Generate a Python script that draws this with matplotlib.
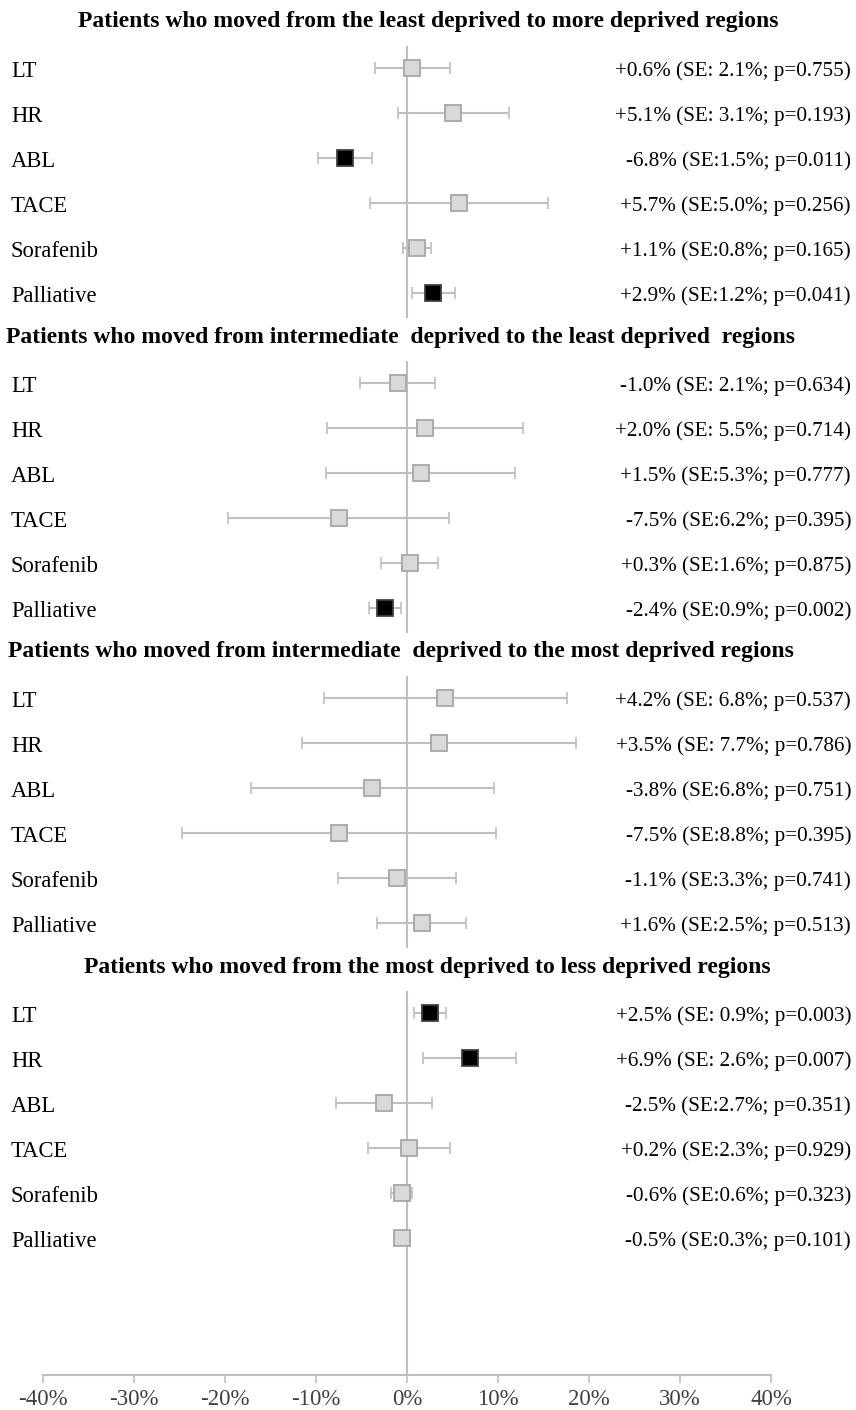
import numpy as np
import matplotlib
matplotlib.use("Agg")
import matplotlib.pyplot as plt
import matplotlib.ticker as ticker

# --------------------------------------------------------------------------- #
# data
# --------------------------------------------------------------------------- #
TREATMENTS = ["LT", "HR", "ABL", "TACE", "Sorafenib", "Palliative"]

TITLES = [
    "Patients who moved from the least deprived to more deprived regions",
    "Patients who moved from intermediate  deprived to the least deprived  regions",
    "Patients who moved from intermediate  deprived to the most deprived regions",
    "Patients who moved from the most deprived to less deprived regions",
]

# change in % for each treatment, per section
est_least_to_more = [0.6, 5.1, -6.8, 5.7, 1.1, 2.9]
est_inter_to_least = [-1.0, 2.0, 1.5, -7.5, 0.3, -2.4]
est_inter_to_most = [4.2, 3.5, -3.8, -7.5, -1.1, 1.6]
est_most_to_less = [2.5, 6.9, -2.5, 0.2, -0.6, -0.5]

se_least_to_more = [2.1, 3.1, 1.5, 5.0, 0.8, 1.2]
se_inter_to_least = [2.1, 5.5, 5.3, 6.2, 1.6, 0.9]
se_inter_to_most = [6.8, 7.7, 6.8, 8.8, 3.3, 2.5]
se_most_to_less = [0.9, 2.6, 2.7, 2.3, 0.6, 0.3]

p_least_to_more = [0.755, 0.193, 0.011, 0.256, 0.165, 0.041]
p_inter_to_least = [0.634, 0.714, 0.777, 0.395, 0.875, 0.002]
p_inter_to_most = [0.537, 0.786, 0.751, 0.395, 0.741, 0.513]
p_most_to_less = [0.003, 0.007, 0.351, 0.929, 0.323, 0.101]

# annotation text exactly as printed
LABELS_1 = ["+0.6% (SE: 2.1%; p=0.755)", "+5.1% (SE: 3.1%; p=0.193)",
            "-6.8% (SE:1.5%; p=0.011)", "+5.7% (SE:5.0%; p=0.256)",
            "+1.1% (SE:0.8%; p=0.165)", "+2.9% (SE:1.2%; p=0.041)"]
LABELS_2 = ["-1.0% (SE: 2.1%; p=0.634)", "+2.0% (SE: 5.5%; p=0.714)",
            "+1.5% (SE:5.3%; p=0.777)", "-7.5% (SE:6.2%; p=0.395)",
            "+0.3% (SE:1.6%; p=0.875)", "-2.4% (SE:0.9%; p=0.002)"]
LABELS_3 = ["+4.2% (SE: 6.8%; p=0.537)", "+3.5% (SE: 7.7%; p=0.786)",
            "-3.8% (SE:6.8%; p=0.751)", "-7.5% (SE:8.8%; p=0.395)",
            "-1.1% (SE:3.3%; p=0.741)", "+1.6% (SE:2.5%; p=0.513)"]
LABELS_4 = ["+2.5% (SE: 0.9%; p=0.003)", "+6.9% (SE: 2.6%; p=0.007)",
            "-2.5% (SE:2.7%; p=0.351)", "+0.2% (SE:2.3%; p=0.929)",
            "-0.6% (SE:0.6%; p=0.323)", "-0.5% (SE:0.3%; p=0.101)"]

XTICKS = [-40, -30, -20, -10, 0, 10, 20, 30, 40]

SECTIONS = [
    (est_least_to_more, se_least_to_more, p_least_to_more, LABELS_1),
    (est_inter_to_least, se_inter_to_least, p_inter_to_least, LABELS_2),
    (est_inter_to_most, se_inter_to_most, p_inter_to_most, LABELS_3),
    (est_most_to_less, se_most_to_less, p_most_to_less, LABELS_4),
]

# --------------------------------------------------------------------------- #
# style
# --------------------------------------------------------------------------- #
plt.rcParams.update({
    "font.family": ["Liberation Serif", "DejaVu Serif"],
    "font.size": 15,
})
GREY_LINE = "#bfbfbf"
BOX_FILL = "#d9d9d9"
BOX_EDGE = "#a6a6a6"
TITLE_CX_PX = [428, 401, 401, 427]   # horizontal centre of each title

W, H = 856, 1410
fig = plt.figure(figsize=(W / 100, H / 100), dpi=100)

# slot layout: each section = title slot + 6 rows, 45 px per slot
SLOT_PX = 45.0
SLOT0_PX = 23.0
AX_BOTTOM_PX = 1375.0
x_left_px, x_right_px = 43.0, 771.0

ax = fig.add_axes([x_left_px / W, (H - AX_BOTTOM_PX) / H,
                   (x_right_px - x_left_px) / W, AX_BOTTOM_PX / H])
ax.set_xlim(-40, 40)
y_top = (0 - SLOT0_PX) / SLOT_PX
y_bot = (AX_BOTTOM_PX - SLOT0_PX) / SLOT_PX
ax.set_ylim(y_bot, y_top)

n_rows = len(TREATMENTS)
for s, (est, se, pv, labels) in enumerate(SECTIONS):
    title_slot = s * (n_rows + 1)
    rows = title_slot + 1 + np.arange(n_rows)
    est = np.asarray(est)
    ci = 1.96 * np.asarray(se)

    # zero reference line, broken around the section titles
    seg_end = title_slot + n_rows + 0.56 if s < len(SECTIONS) - 1 else y_bot
    ax.plot([0, 0], [title_slot + 0.5, seg_end], color=GREY_LINE,
            lw=1.5, zorder=1, solid_capstyle="butt")

    ax.errorbar(est, rows, xerr=ci, fmt="none", ecolor=GREY_LINE,
                elinewidth=1.5, capsize=4, capthick=1.2, zorder=2)
    for x, y, p in zip(est, rows, pv):
        sig = p < 0.05
        ax.plot(x, y, marker="s", ms=11.5,
                mfc="black" if sig else BOX_FILL,
                mec="#404040" if sig else BOX_EDGE, mew=1.3, zorder=3)

    fig.text(TITLE_CX_PX[s] / W, 1 - (SLOT0_PX + SLOT_PX * title_slot - 1) / H,
             TITLES[s], ha="center", va="center", fontsize=17,
             fontweight="bold")
    for r, name, lab in zip(rows, TREATMENTS, labels):
        ypix = SLOT0_PX + SLOT_PX * r + 1
        fig.text(11 / W, 1 - ypix / H, name, ha="left",
                 va="center_baseline", fontsize=16.3)
        fig.text(851 / W, 1 - ypix / H, lab, ha="right",
                 va="center_baseline", fontsize=15.2)

# x axis
for side in ["left", "right", "top"]:
    ax.spines[side].set_visible(False)
ax.spines["bottom"].set_color(GREY_LINE)
ax.spines["bottom"].set_linewidth(1.5)
ax.set_yticks([])
ax.set_xticks(XTICKS)
ax.xaxis.set_major_formatter(ticker.FuncFormatter(lambda v, _: f"{v:.0f}%"))
ax.tick_params(axis="x", direction="out", length=6, width=1.2,
               color=GREY_LINE, labelcolor="#404040", labelsize=16.5, pad=4)

fig.savefig("out.png", dpi=100)
